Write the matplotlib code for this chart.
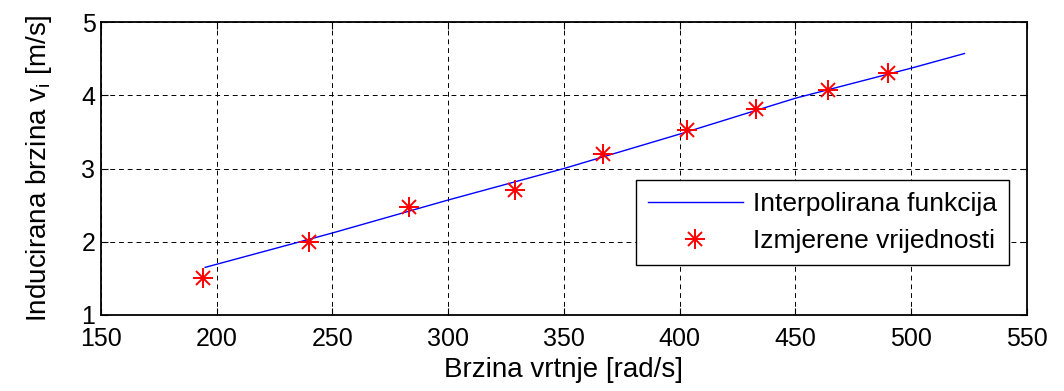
import numpy as np
import matplotlib
matplotlib.use('Agg')
import matplotlib.pyplot as plt
from matplotlib.legend_handler import HandlerTuple

# ----------------------------------------------------------
# Podaci (ocitano sa slike)
# ----------------------------------------------------------
# interpolirana funkcija
omega_fit = [195, 250, 300, 350, 400, 450, 500, 523]
v_fit = [1.65, 2.12, 2.57, 3.00, 3.47, 3.96, 4.37, 4.57]

# izmjerene vrijednosti
omega_mj = [194, 240, 283, 329, 367, 403, 433, 464, 490]
v_mj = [1.50, 2.00, 2.47, 2.71, 3.20, 3.53, 3.81, 4.07, 4.31]

xticks = [150, 200, 250, 300, 350, 400, 450, 500, 550]
yticks = [1, 2, 3, 4, 5]

plt.rcParams['font.family'] = ['Liberation Sans', 'DejaVu Sans']

fig = plt.figure(figsize=(10.64, 3.91), dpi=100)
ax = fig.add_axes([0.0949, 0.1944, 0.8703, 0.7493])

l1, = ax.plot(omega_fit, v_fit, color='#0000ff', lw=1.0)
m1, = ax.plot(omega_mj, v_mj, ls='none', marker='+', ms=14, mew=1.4, color='#ff0000')
m2, = ax.plot(omega_mj, v_mj, ls='none', marker='x', ms=10, mew=1.4, color='#ff0000')

ax.set_xlim(150, 550)
ax.set_ylim(1, 5)
ax.set_xticks(xticks)
ax.set_yticks(yticks)
ax.tick_params(direction='in', top=True, right=True, length=5, width=0.8,
               labelsize=18)
ax.tick_params(axis='x', pad=9)
ax.tick_params(axis='y', pad=4)
ax.grid(True, color='k', lw=0.7, ls=(0, (5, 4)))
for s in ax.spines.values():
    s.set_linewidth(1.3)

ax.set_xlabel('Brzina vrtnje [rad/s]', fontsize=20, labelpad=4)
ax.set_ylabel('Inducirana brzina v$_\\mathregular{i}$ [m/s]', fontsize=20, labelpad=20)

leg = ax.legend([l1, (m1, m2)], ['Interpolirana funkcija', 'Izmjerene vrijednosti'],
                handler_map={tuple: HandlerTuple(ndivide=1)},
                loc='lower right', bbox_to_anchor=(0.9806, 0.171), borderaxespad=0,
                fontsize=19, fancybox=False, edgecolor='k', framealpha=1,
                handlelength=3.6, handletextpad=0.4, borderpad=0.45, labelspacing=0.5)
leg.get_frame().set_linewidth(1.0)

plt.savefig('out.png', dpi=100)
